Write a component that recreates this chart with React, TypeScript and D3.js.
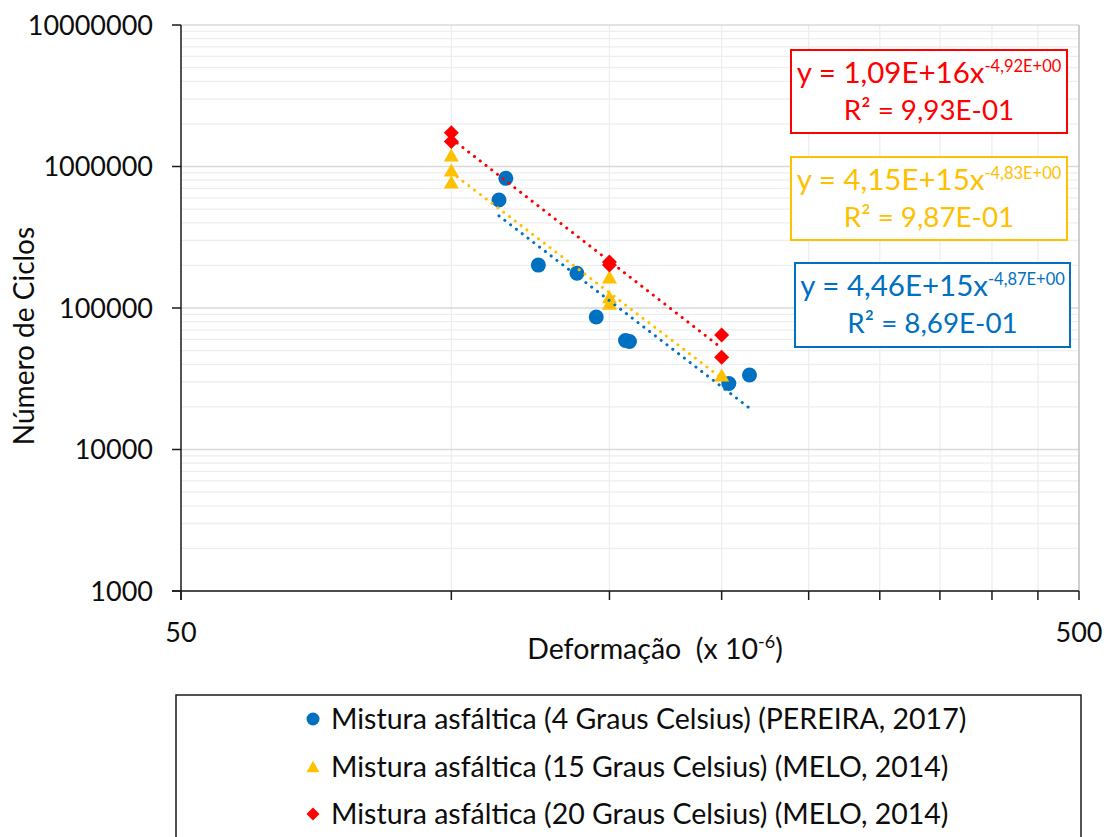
import React from "react";
import * as d3 from "d3";

// ---- data ----
const seriesNames = [
  "Mistura asfáltica (4 Graus Celsius) (PEREIRA, 2017)",
  "Mistura asfáltica (15 Graus Celsius) (MELO, 2014)",
  "Mistura asfáltica (20 Graus Celsius) (MELO, 2014)",
];
const seriesColors = ["#0070C0", "#FFC000", "#FF0000"];
const seriesShapes = ["circle", "triangle", "diamond"];

const blueX = [115, 113, 125, 138, 145, 156.3, 157.9, 203.7, 214.8];
const blueY = [825000, 580000, 201000, 176000, 86400, 58900, 58000, 29300, 33600];
const yellowX = [100, 100, 100, 150, 150, 150, 200];
const yellowY = [1206000, 945000, 777000, 166000, 120000, 108000, 33600];
const redX = [100, 100, 150, 150, 200, 200];
const redY = [1733000, 1500000, 211000, 201000, 64500, 44800];

const trendCoef = [4.46e15, 4.15e15, 1.09e16];
const trendExp = [-4.87, -4.83, -4.92];
const eqMain = ["y = 4,46E+15x", "y = 4,15E+15x", "y = 1,09E+16x"];
const eqSup = ["-4,87E+00", "-4,83E+00", "-4,92E+00"];
const eqR2 = ["R² = 8,69E-01", "R² = 9,87E-01", "R² = 9,93E-01"];

const yTicks = [1000, 10000, 100000, 1000000, 10000000];
const xTickLabels = [50, 500];
const xMinorTicks = [50, 100, 150, 200, 250, 300, 350, 400, 450, 500];

const xs = [blueX, yellowX, redX];
const ys = [blueY, yellowY, redY];

const W = 1111;
const H = 837;
const L = 181, R = 1079, T = 25, B = 591;
const FONT = "Lato, 'Open Sans', sans-serif";
const TXT = "#0d0d0d";

function markerPath(shape: string, cx: number, cy: number, s: number) {
  if (shape === "circle") {
    const r = s / 2;
    return `M${cx - r},${cy}a${r},${r} 0 1,0 ${2 * r},0a${r},${r} 0 1,0 ${-2 * r},0Z`;
  }
  if (shape === "triangle") {
    const h = s * 0.87;
    return `M${cx},${cy - h / 2}L${cx + s / 2},${cy + h / 2}L${cx - s / 2},${cy + h / 2}Z`;
  }
  const r = s / 2;
  return `M${cx},${cy - r}L${cx + r},${cy}L${cx},${cy + r}L${cx - r},${cy}Z`;
}

export default function App() {
  const x = d3.scaleLog().domain([50, 500]).range([L, R]);
  const y = d3.scaleLog().domain([1000, 10000000]).range([B, T]);

  const yMinor: number[] = [];
  for (let e = 3; e < 7; e++) for (let k = 2; k <= 9; k++) yMinor.push(k * Math.pow(10, e));

  const eqBoxes = [
    { x0: 795, y0: 263, w: 275, h: 84 },
    { x0: 791, y0: 157, w: 276, h: 83 },
    { x0: 791, y0: 50, w: 276, h: 83 },
  ];

  return (
    <svg width={W} height={H} style={{ position: "absolute", left: 0, top: 0, background: "#fff" }} fontFamily={FONT}>
      <rect x={0} y={0} width={W} height={H} fill="#fff" />
      {/* minor gridlines */}
      {yMinor.map((v) => (
        <line key={"ym" + v} x1={L} x2={R} y1={y(v)} y2={y(v)} stroke="#eeeeee" strokeWidth={1.3} />
      ))}
      {xMinorTicks.slice(1, -1).map((v) => (
        <line key={"xm" + v} x1={x(v)} x2={x(v)} y1={T} y2={B} stroke="#eeeeee" strokeWidth={1.3} />
      ))}
      {/* major gridlines */}
      {yTicks.map((v) => (
        <line key={"yM" + v} x1={L} x2={R} y1={y(v)} y2={y(v)} stroke="#d9d9d9" strokeWidth={1.5} />
      ))}
      <line x1={x(500)} x2={x(500)} y1={T} y2={B} stroke="#bfbfbf" strokeWidth={1.5} />

      {/* axes */}
      <line x1={L} x2={L} y1={T} y2={B + 9} stroke="#1a1a1a" strokeWidth={1.5} />
      <line x1={L - 9} x2={R} y1={B} y2={B} stroke="#1a1a1a" strokeWidth={1.5} />
      {yTicks.map((v) => (
        <line key={"yt" + v} x1={L - 9} x2={L} y1={y(v)} y2={y(v)} stroke="#1a1a1a" strokeWidth={1.5} />
      ))}
      {xMinorTicks.map((v) => (
        <line key={"xt" + v} x1={x(v)} x2={x(v)} y1={B} y2={B + 9} stroke="#1a1a1a" strokeWidth={1.5} />
      ))}
      {yTicks.map((v) => (
        <text key={"yl" + v} x={153} y={y(v) + 9.5} textAnchor="end" fontSize={27} fill={TXT}>
          {String(v)}
        </text>
      ))}
      {xTickLabels.map((v) => (
        <text key={"xl" + v} x={x(v)} y={642} textAnchor="middle" fontSize={27} fill={TXT}>
          {String(v)}
        </text>
      ))}

      {/* axis titles */}
      <text x={655} y={659} textAnchor="middle" fontSize={28.5} fill={TXT} style={{ whiteSpace: "pre" }}>
        <tspan>{"Deformação  (x 10"}</tspan>
        <tspan fontSize={18} dy={-11}>-6</tspan>
        <tspan dy={11}>)</tspan>
      </text>
      <text transform={`translate(34,336) rotate(-90)`} textAnchor="middle" fontSize={28} fill={TXT}>
        Número de Ciclos
      </text>

      {/* markers */}
      {xs.map((sx, si) =>
        sx.map((xv, i) => (
          <path key={`m${si}-${i}`} d={markerPath(seriesShapes[si], x(xv), y(ys[si][i]), 15)} fill={seriesColors[si]} />
        ))
      )}

      {/* trend lines */}
      {xs.map((sx, si) => {
        const x0 = d3.min(sx) as number;
        const x1 = d3.max(sx) as number;
        const f = (v: number) => trendCoef[si] * Math.pow(v, trendExp[si]);
        return (
          <line
            key={"tr" + si}
            x1={x(x0)}
            y1={y(f(x0))}
            x2={x(x1)}
            y2={y(f(x1))}
            stroke={seriesColors[si]}
            strokeWidth={3}
            strokeLinecap="round"
            strokeDasharray="0.1 7.2"
          />
        );
      })}

      {/* equation boxes */}
      {eqBoxes.map((b, si) => (
        <g key={"eq" + si}>
          <rect x={b.x0} y={b.y0} width={b.w} height={b.h} fill="#fff" stroke={seriesColors[si]} strokeWidth={2} />
          <text x={b.x0 + b.w / 2} y={b.y0 + 33} textAnchor="middle" fontSize={29.5} fill={seriesColors[si]}>
            <tspan>{eqMain[si]}</tspan>
            <tspan fontSize={16.5} dy={-11}>{eqSup[si]}</tspan>
          </text>
          <text x={b.x0 + b.w / 2} y={b.y0 + 70} textAnchor="middle" fontSize={27.8} fill={seriesColors[si]}>
            {eqR2[si]}
          </text>
        </g>
      ))}

      {/* legend */}
      <rect x={176} y={695} width={905} height={170} fill="#fff" stroke="#1a1a1a" strokeWidth={1.5} />
      {seriesNames.map((n, si) => {
        const cy = 719 + si * 47.5;
        return (
          <g key={"lg" + si}>
            <path d={markerPath(seriesShapes[si], 313, cy, 13)} fill={seriesColors[si]} />
            <text x={331} y={cy + 10} fontSize={28.5} fill={TXT}>
              {n}
            </text>
          </g>
        );
      })}
    </svg>
  );
}
